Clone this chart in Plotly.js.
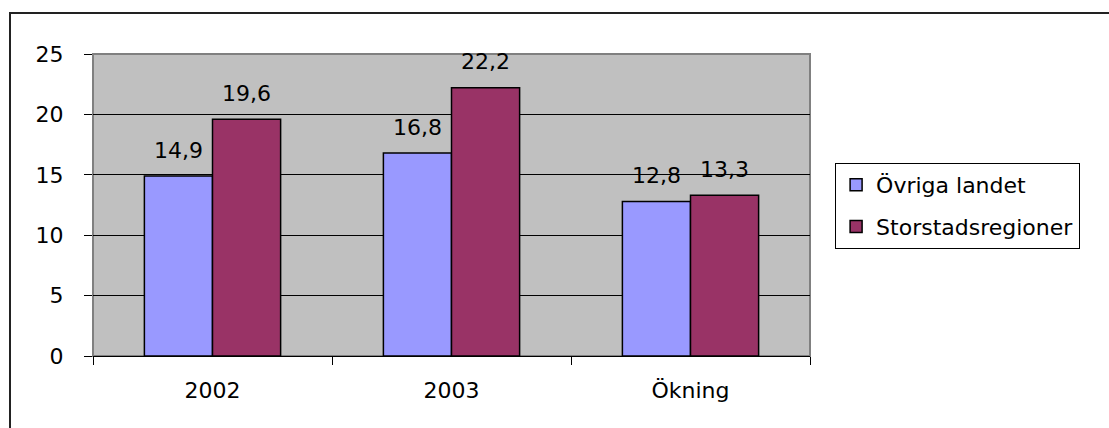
<!DOCTYPE html>
<html>
<head>
<meta charset="utf-8">
<script src="https://cdn.plot.ly/plotly-3.0.1.min.js"></script>
<style>
  html, body { margin: 0; padding: 0; background: #ffffff; }
  #frame { position: absolute; left: 9px; top: 12px; width: 1120px; height: 430px; border: 2px solid #222; box-sizing: border-box; }
  #chart { position: absolute; left: 0; top: 0; width: 1109px; height: 428px; }
</style>
</head>
<body>
<div id="frame"></div>
<div id="chart"></div>
<script>
const categories = ["2002", "2003", "Ökning"];
const ovrigaLandet = [14.9, 16.8, 12.8];
const storstadsregioner = [19.6, 22.2, 13.3];
const seriesNames = ["Övriga landet", "Storstadsregioner"];
const yTicks = [0, 5, 10, 15, 20, 25];

const FONT = "DejaVu Sans, Liberation Sans, Arial, sans-serif";
const FS = 22;
const fmt = v => v.toFixed(1).replace(".", ",");

const traces = [
  {
    type: "bar", name: seriesNames[0], x: categories, y: ovrigaLandet,
    legendgroup: "a",
    marker: { color: "#9999FF", line: { color: "#000000", width: 1.5 } },
    hoverinfo: "none"
  },
  {
    type: "bar", name: seriesNames[1], x: categories, y: storstadsregioner,
    legendgroup: "b",
    marker: { color: "#993366", line: { color: "#000000", width: 1.5 } },
    hoverinfo: "none"
  }
];

const annotations = [];
[ovrigaLandet, storstadsregioner].forEach((vals, s) => {
  vals.forEach((v, i) => {
    annotations.push({
      x: i, y: v, xref: "x", yref: "y",
      text: fmt(v), showarrow: false,
      xshift: s === 0 ? -34 : 34, yshift: 26,
      xanchor: "center", yanchor: "middle",
      font: { family: FONT, size: FS, color: "#000" }
    });
  });
});

const layout = {
  width: 1109, height: 428,
  margin: { l: 93, r: 299, t: 54, b: 72 },
  paper_bgcolor: "rgba(0,0,0,0)",
  plot_bgcolor: "#C0C0C0",
  barmode: "group",
  bargap: 0.43,
  bargroupgap: 0,
  font: { family: FONT, size: FS, color: "#000" },
  showlegend: true,
  legend: {
    x: 1.035, y: 0.639, xanchor: "left", yanchor: "top",
    bgcolor: "#ffffff", bordercolor: "#000000", borderwidth: 1,
    font: { family: FONT, size: FS, color: "#000" },
    traceorder: "grouped", tracegroupgap: 10
  },
  xaxis: {
    type: "category",
    range: [-0.5, categories.length - 0.5],
    showgrid: false,
    showline: true, linecolor: "#000", linewidth: 1,
    ticks: "outside", tickson: "boundaries", ticklen: 8, tickcolor: "#000", tickwidth: 1,
    ticklabelstandoff: 15,
    tickangle: 0,
    tickfont: { family: FONT, size: FS, color: "#000" },
    fixedrange: true
  },
  yaxis: {
    range: [0, 25],
    tickvals: yTicks,
    ticktext: yTicks.map(String),
    showgrid: true, gridcolor: "#000000", gridwidth: 1,
    zeroline: false,
    showline: false,
    ticks: "outside", ticklen: 8, tickcolor: "#000", tickwidth: 1,
    ticklabelstandoff: 16,
    tickfont: { family: FONT, size: FS, color: "#000" },
    fixedrange: true
  },
  shapes: [
    { type: "rect", xref: "paper", yref: "paper", x0: 0, x1: 1, y0: 0, y1: 1,
      line: { color: "#808080", width: 2 }, fillcolor: "rgba(0,0,0,0)", layer: "below" }
  ],
  annotations: annotations
};

Plotly.newPlot("chart", traces, layout, { displayModeBar: false, staticPlot: true });
</script>
</body>
</html>
